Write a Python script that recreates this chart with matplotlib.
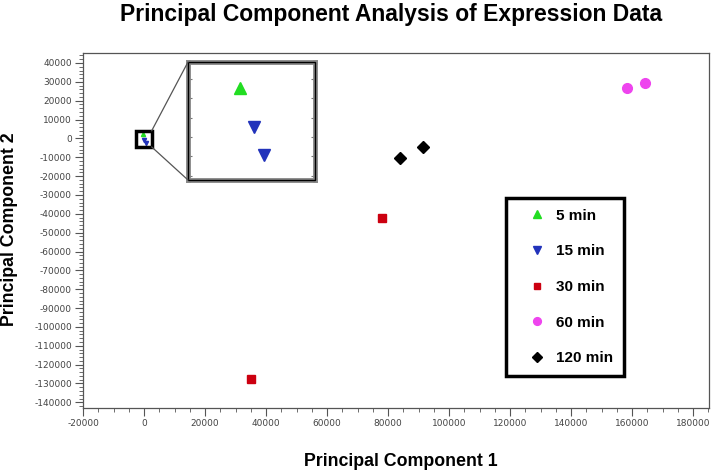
import matplotlib
matplotlib.use("Agg")
import matplotlib.pyplot as plt
from matplotlib.patches import Rectangle, ConnectionPatch
from matplotlib.ticker import MultipleLocator, FuncFormatter

plt.rcParams['font.family'] = ['Liberation Sans', 'DejaVu Sans']

# values
labels = ['5 min', '15 min', '30 min', '60 min', '120 min']
x5, y5 = [-450], [2100]
x15, y15 = [100, 500], [-700, -2700]
x30, y30 = [35100, 78000], [-127500, -42300]
x60, y60 = [158400, 164300], [26700, 29400]
x120, y120 = [83900, 91500], [-10200, -4800]

styles = [('^', '#22dd22', 8), ('v', '#2233bb', 8), ('s', '#cc0010', 6),
          ('o', '#ee44ee', 7), ('D', 'black', 6)]
series = [(x5, y5), (x15, y15), (x30, y30), (x60, y60), (x120, y120)]

fig = plt.figure(figsize=(7.12, 4.72), dpi=100)
ax = fig.add_axes([83/712, 1-408/472, 626/712, 355/472])

handles = []
for (xs, ys), (m, c, s), lab in zip(series, styles, labels):
    small = lab in ('5 min', '15 min')
    ax.plot(xs, ys, ls='none', marker=m, color=c,
            ms=3 if small else s, label=lab, zorder=3)
    # legend markers are a bit smaller than the plotted ones
    handles.append(ax.plot([], [], ls='none', marker=m, color=c, ms=s*0.8)[0])

ax.set_xlim(-20000, 185200)
ax.set_ylim(-143000, 45300)
ax.xaxis.set_major_locator(MultipleLocator(20000))
ax.xaxis.set_minor_locator(MultipleLocator(5000))
ax.yaxis.set_major_locator(MultipleLocator(10000))
ax.yaxis.set_minor_locator(MultipleLocator(2000))
fmt = FuncFormatter(lambda v, p: ('-' if v < 0 else '') + str(int(abs(round(v)))))
ax.xaxis.set_major_formatter(fmt)
ax.yaxis.set_major_formatter(fmt)
ax.tick_params(which='major', length=6, width=0.8, color='#555555',
               labelsize=6.5, labelcolor='#444444', pad=2)
ax.tick_params(which='minor', length=3, width=0.6, color='#555555')
for lab_ in ax.get_xticklabels() + ax.get_yticklabels():
    lab_.set_family('DejaVu Sans')
for sp in ['top', 'right', 'left', 'bottom']:
    ax.spines[sp].set_color('#555555')
    ax.spines[sp].set_linewidth(0.9)

# zoom box around the origin
box = Rectangle((-2500, -4500), 5000, 8500, fill=False, ec='black', lw=2.5, zorder=4)
ax.add_patch(box)

axins = fig.add_axes([188/712, 1-180/472, 127/712, 118/472])
for (xs, ys), (m, c, s), lab in zip(series[:2], styles[:2], labels[:2]):
    axins.plot(xs, ys, ls='none', marker=m, color=c, ms=s)
axins.set_xlim(-2500, 2500)
axins.set_ylim(-4500, 4000)
axins.set_xticks([])
axins.yaxis.set_major_locator(MultipleLocator(1400))
axins.tick_params(axis='y', left=True, right=True, direction='in', length=3,
                  color='#777777', labelleft=False)
for sp in axins.spines.values():
    sp.set_color('#888888')
    sp.set_linewidth(3.5)
axins.add_patch(Rectangle((0, 0), 1, 1, transform=axins.transAxes, fill=False,
                          ec='black', lw=1.0, clip_on=False, zorder=5))

for ya, yb in [(4000, 1), (-4500, 0)]:
    con = ConnectionPatch(xyA=(2500, ya), coordsA='data', axesA=ax,
                          xyB=(0, yb), coordsB='axes fraction', axesB=axins,
                          color='#555555', lw=0.9)
    fig.add_artist(con)

leg = ax.legend(handles, labels, loc='upper left',
                bbox_to_anchor=((506-83)/626, (408-198)/355),
                borderaxespad=0, frameon=True, fancybox=False, framealpha=1,
                prop={'weight': 'bold', 'size': 11}, labelspacing=1.42,
                borderpad=0.7, handlelength=2.6, handletextpad=0.0)
leg.get_frame().set_edgecolor('black')
leg.get_frame().set_linewidth(2.5)

fig.text(391/712, 1-14/472, 'Principal Component Analysis of Expression Data',
         ha='center', va='center', fontsize=16.5, fontweight='bold')
fig.text(401/712, 1-461/472, 'Principal Component 1', ha='center', va='center',
         fontsize=12.8, fontweight='bold')
fig.text(10/712, 1-229/472, 'Principal Component 2', ha='center', va='center',
         rotation=90, fontsize=12.8, fontweight='bold')

fig.savefig('out.png', dpi=100)
